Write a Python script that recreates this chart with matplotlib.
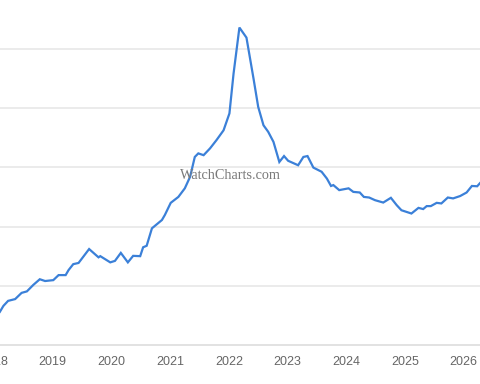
import numpy as np
from matplotlib import pyplot as plt
from matplotlib import transforms

# fecha en años decimales y precio
years = [2018.10, 2018.16, 2018.24, 2018.36, 2018.47, 2018.56, 2018.67, 2018.78, 2018.87,
         2019.01, 2019.10, 2019.22, 2019.27, 2019.35, 2019.44, 2019.62, 2019.78, 2019.81, 2019.98,
         2020.06, 2020.16, 2020.28, 2020.37, 2020.49, 2020.54, 2020.60, 2020.69, 2020.86, 2020.91,
         2021.01, 2021.14, 2021.25, 2021.34, 2021.42, 2021.48, 2021.57, 2021.68, 2021.79, 2021.91,
         2022.01, 2022.08, 2022.18, 2022.30, 2022.42, 2022.50, 2022.59, 2022.67, 2022.76, 2022.86, 2022.94,
         2023.01, 2023.18, 2023.27, 2023.34, 2023.44, 2023.58, 2023.67, 2023.74, 2023.78, 2023.88,
         2024.04, 2024.12, 2024.23, 2024.30, 2024.39, 2024.49, 2024.63, 2024.76, 2024.86, 2024.94,
         2025.11, 2025.23, 2025.31, 2025.37, 2025.44, 2025.54, 2025.62, 2025.73, 2025.82, 2025.94,
         2026.05, 2026.14, 2026.23, 2026.28]
precios = [11120, 11320, 11490, 11550, 11760, 11810, 12030, 12220, 12160,
           12190, 12360, 12360, 12530, 12730, 12770, 13240, 12960, 13000, 12790,
           12840, 13110, 12790, 13010, 13000, 13300, 13350, 13940, 14220, 14390,
           14800, 15000, 15290, 15680, 16350, 16470, 16410, 16640, 16920, 17250,
           17820, 19160, 20720, 20380, 19000, 18040, 17420, 17200, 16860, 16180, 16380,
           16220, 16070, 16350, 16380, 15990, 15850, 15620, 15370, 15400, 15230,
           15290, 15170, 15150, 15000, 14980, 14890, 14810, 14970, 14720, 14550,
           14440, 14630, 14590, 14690, 14690, 14800, 14780, 14980, 14950, 15030,
           15150, 15370, 15360, 15470]
anios_ticks = [2019, 2020, 2021, 2022, 2023, 2024, 2025, 2026]
lineas_y = [10000, 12000, 14000, 16000, 18000, 20000]

plt.rcParams['font.family'] = ['Liberation Sans', 'DejaVu Sans']

fig = plt.figure(figsize=(4.8, 3.84), dpi=100)
ax = fig.add_axes([0, 0.1016, 1, 0.8984])

ax.plot(years, precios, color='#3b80d8', linewidth=1.6, solid_joinstyle='miter')

ax.set_xlim(2018.102, 2026.278)
ax.set_ylim(10000, 21650)
ax.set_yticks(lineas_y)
ax.set_yticklabels([])
ax.set_xticks(anios_ticks)
ax.set_xticklabels([str(a) for a in anios_ticks])
ax.tick_params(axis='both', length=0, labelsize=9, labelcolor='#666666', pad=8)
ax.grid(axis='y', color='#ebebeb', linewidth=1.4)
ax.set_axisbelow(True)
for s in ax.spines.values():
    s.set_visible(False)
ax.spines['bottom'].set_visible(True)
ax.spines['bottom'].set_color('#e2e2e2')
ax.spines['bottom'].set_linewidth(1.4)

# etiqueta 2018 cortada en el borde izquierdo
trans = transforms.blended_transform_factory(ax.transData, ax.transAxes)
lbl = ax.get_xticklabels()[0]
ax.text(2018, 0, '2018', transform=trans, fontsize=9, color='#666666', ha='center', va='top',
        clip_on=False)
fig.canvas.draw()
# alinear verticalmente con las demás etiquetas
bb = lbl.get_window_extent()
ax.texts[0].set_transform(transforms.blended_transform_factory(ax.transData, transforms.IdentityTransform()))
ax.texts[0].set_y(bb.y1)

ax.text(0.481, 0.492, 'WatchCharts.com', transform=ax.transAxes, fontsize=10.3,
        family='Liberation Serif', color='#7a7a7a', ha='center', va='center')

fig.savefig('out.png', dpi=100)
